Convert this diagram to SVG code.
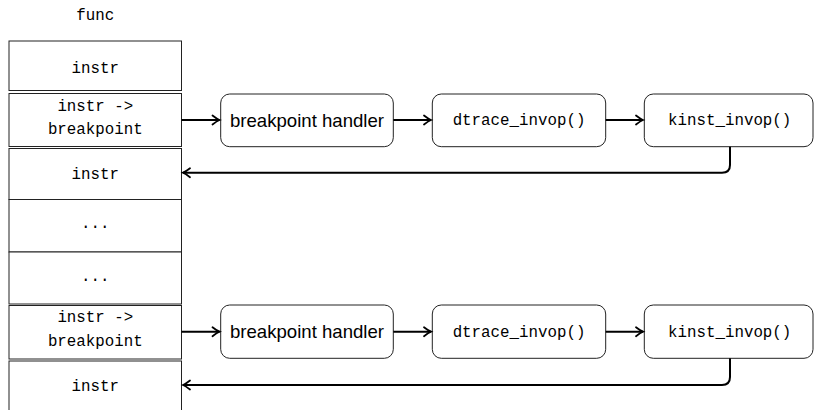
<svg xmlns="http://www.w3.org/2000/svg" width="814" height="410" viewBox="0 0 814 410">
<style>
.cell{fill:#fff;stroke:#222;stroke-width:1}
.box{fill:#fff;stroke:#222;stroke-width:1}
.mono{font-family:"Liberation Mono","DejaVu Sans Mono",monospace;font-size:15.8px;fill:#000;text-anchor:middle}
.sans{font-family:"Liberation Sans","DejaVu Sans",sans-serif;font-size:18.6px;fill:#000;text-anchor:middle}
.edge{fill:none;stroke:#000;stroke-width:2;marker-end:url(#ah)}
</style>
<defs>
<marker id="ah" markerUnits="userSpaceOnUse" markerWidth="14" markerHeight="14" viewBox="-10 -7 12 14" refX="0" refY="0" orient="auto">
<path d="M-7,-4.5 Q-2.5,-1 0,0 Q-2.5,1 -7,4.5" fill="none" stroke="#000" stroke-width="1.8" stroke-linecap="round"/>
</marker>
</defs>
<text class="mono" x="95.3" y="20">func</text>
<g id="column">
<g id="c1"><rect class="cell" x="9" y="41" width="172.5" height="49.5"/><text class="mono" x="95.3" y="73">instr</text></g>
<g id="c2"><rect class="cell" x="9" y="93.5" width="172.5" height="53"/><text class="mono" x="95.3" y="111">instr -&gt;</text><text class="mono" x="95.3" y="134">breakpoint</text></g>
<g id="c3"><rect class="cell" x="9" y="148.5" width="172.5" height="51"/><text class="mono" x="95.3" y="178.5">instr</text></g>
<g id="c4"><rect class="cell" x="9" y="199.5" width="172.5" height="52.5"/><text class="mono" x="95.3" y="228">...</text></g>
<g id="c5"><rect class="cell" x="9" y="252" width="172.5" height="52"/><text class="mono" x="95.3" y="280.5">...</text></g>
<g id="c6"><rect class="cell" x="9" y="305.5" width="172.5" height="53.5"/><text class="mono" x="95.3" y="322">instr -&gt;</text><text class="mono" x="95.3" y="346">breakpoint</text></g>
<g id="c7"><rect class="cell" x="9" y="361" width="172.5" height="60"/><text class="mono" x="95.3" y="391">instr</text></g>
</g>
<g id="bh1"><rect class="box" x="220.7" y="94" width="172.6" height="52.7" rx="9"/><text class="sans" x="307" y="126.5">breakpoint handler</text></g>
<g id="dt1"><rect class="box" x="432.3" y="94" width="173.4" height="52.7" rx="9"/><text class="mono" x="519" y="125">dtrace_invop()</text></g>
<g id="ki1"><rect class="box" x="644.3" y="94" width="168.7" height="52.7" rx="9"/><text class="mono" x="729.7" y="125">kinst_invop()</text></g>
<g id="bh2"><rect class="box" x="220.7" y="305" width="172.6" height="53.3" rx="9"/><text class="sans" x="307" y="338">breakpoint handler</text></g>
<g id="dt2"><rect class="box" x="432.3" y="305" width="173.4" height="53.3" rx="9"/><text class="mono" x="519" y="336.5">dtrace_invop()</text></g>
<g id="ki2"><rect class="box" x="644.3" y="305" width="168.7" height="53.3" rx="9"/><text class="mono" x="729.7" y="336.5">kinst_invop()</text></g>
<g id="connectors">
<path class="edge" d="M181.5,120 H219.5"/>
<path class="edge" d="M393.3,120 H431"/>
<path class="edge" d="M605.7,120 H643"/>
<path class="edge" d="M730,146.7 V165 Q730,172.7 722,172.7 H183"/>
<path class="edge" d="M181.5,331.7 H219.5"/>
<path class="edge" d="M393.3,331.7 H431"/>
<path class="edge" d="M605.7,331.7 H643"/>
<path class="edge" d="M730,358.3 V377 Q730,385 722,385 H183"/>
</g>
</svg>
